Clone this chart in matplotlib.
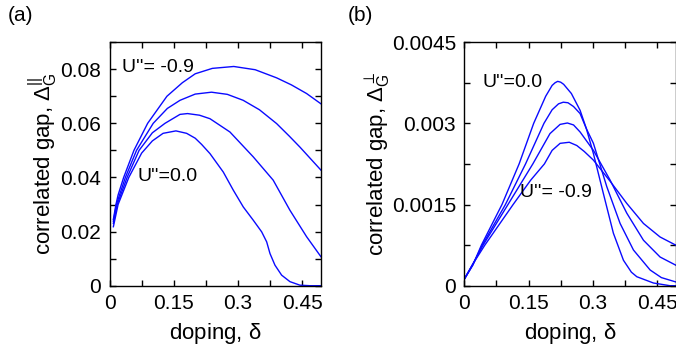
import matplotlib
matplotlib.use("Agg")
import matplotlib.pyplot as plt
import numpy as np

plt.rcParams['font.family'] = ['Liberation Sans', 'DejaVu Sans']
plt.rcParams['mathtext.fontset'] = 'custom'
plt.rcParams['mathtext.rm'] = 'Liberation Sans'
plt.rcParams['mathtext.it'] = 'Liberation Sans'
plt.rcParams['mathtext.default'] = 'regular'

# panel (a): correlated gap parallel (top curve U''=-0.9 ... bottom U''=0.0)
xa1 = [0.009, 0.015, 0.020, 0.033, 0.057, 0.089, 0.134, 0.170, 0.200, 0.240, 0.290, 0.340, 0.390, 0.4245, 0.460, 0.4935]
ya1 = [0.0245, 0.0300, 0.0335, 0.0400, 0.0500, 0.0600, 0.0700, 0.0750, 0.0783, 0.0803, 0.0810, 0.0798, 0.0768, 0.0742, 0.0710, 0.0672]

xa2 = [0.009, 0.016, 0.037, 0.063, 0.102, 0.135, 0.1645, 0.200, 0.238, 0.275, 0.312, 0.350, 0.390, 0.420, 0.4445, 0.4935]
ya2 = [0.0238, 0.0300, 0.0400, 0.0500, 0.0600, 0.0655, 0.0685, 0.0708, 0.0715, 0.0707, 0.0685, 0.0650, 0.0599, 0.0552, 0.0512, 0.0427]

xa3 = [0.009, 0.018, 0.041, 0.069, 0.100, 0.1295, 0.1645, 0.182, 0.210, 0.2345, 0.281, 0.3355, 0.382, 0.421, 0.460, 0.4935]
ya3 = [0.0230, 0.0300, 0.0400, 0.0500, 0.0565, 0.0600, 0.0633, 0.0636, 0.0630, 0.0617, 0.0568, 0.0476, 0.0390, 0.0279, 0.0181, 0.0107]

xa4 = [0.009, 0.020, 0.045, 0.075, 0.100, 0.125, 0.155, 0.180, 0.200, 0.215, 0.2345, 0.2655, 0.2889, 0.3122,
       0.3355, 0.3551, 0.3668, 0.3745, 0.3861, 0.4017, 0.4211, 0.4444, 0.468, 0.4935]
ya4 = [0.0218, 0.0300, 0.0400, 0.0490, 0.0535, 0.0563, 0.0572, 0.0563, 0.0545, 0.0522, 0.0488, 0.0420, 0.0353, 0.0291,
       0.0242, 0.0199, 0.0162, 0.0119, 0.0076, 0.0039, 0.0015, 0.0002, 0.0, 0.0]

# panel (b): correlated gap perpendicular (tallest U''=0.0 ... lowest U''=-0.9)
xb1 = [0.0, 0.020, 0.040, 0.088, 0.128, 0.162, 0.190, 0.205, 0.212, 0.218, 0.225, 0.232, 0.250, 0.2703, 0.285, 0.3014,
       0.3247, 0.348, 0.3715, 0.390, 0.4027, 0.4415, 0.480, 0.4935]
yb1 = [0.00012, 0.00038, 0.00075, 0.00150, 0.00225, 0.00300, 0.00350, 0.00370, 0.00375, 0.003775, 0.00376, 0.00372, 0.00355, 0.00324, 0.00290, 0.00244,
       0.00170, 0.00097, 0.00047, 0.00025, 0.000166, 0.00005, 0.0, 0.0]

xb2 = [0.0, 0.020, 0.042, 0.096, 0.143, 0.186, 0.205, 0.220, 0.231, 0.242, 0.255, 0.2703, 0.285, 0.3014, 0.3326, 0.3637, 0.3948, 0.4338, 0.460, 0.4935]
yb2 = [0.00012, 0.00039, 0.00075, 0.00150, 0.00225, 0.00300, 0.00325, 0.00336, 0.00339, 0.00338, 0.00331, 0.00318, 0.00290, 0.00263, 0.00183, 0.00115, 0.00066, 0.00029, 0.00015, 0.00007]

xb3 = [0.0, 0.020, 0.044, 0.102, 0.160, 0.200, 0.2236, 0.2406, 0.255, 0.2703, 0.3014, 0.3404, 0.3793, 0.4182, 0.457, 0.4935]
yb3 = [0.00012, 0.00040, 0.00075, 0.00150, 0.00225, 0.00281, 0.00298, 0.003006, 0.00297, 0.00284, 0.00250, 0.00195, 0.00134, 0.00084, 0.00053, 0.00038]

xb4 = [0.0, 0.020, 0.048, 0.114, 0.155, 0.187, 0.205, 0.2236, 0.245, 0.2626, 0.280, 0.3014, 0.3404, 0.3793, 0.4182, 0.457, 0.4935]
yb4 = [0.00012, 0.00040, 0.00075, 0.00150, 0.00195, 0.00225, 0.00250, 0.00263, 0.00265, 0.00259, 0.00248, 0.00232, 0.00193, 0.00152, 0.00115, 0.00090, 0.00075]

xticks = [0, 0.15, 0.3, 0.45]
xticklabels = ["0", "0.15", "0.3", "0.45"]
yticks_a = [0, 0.02, 0.04, 0.06, 0.08]
yticklabels_a = ["0", "0.02", "0.04", "0.06", "0.08"]
yticks_b = [0, 0.0015, 0.003, 0.0045]
yticklabels_b = ["0", "0.0015", "0.003", "0.0045"]

fig = plt.figure(figsize=(6.76, 3.51), dpi=100)
axa = fig.add_axes([0.1620, 0.186, 0.3128, 0.694])
axb = fig.add_axes([0.6868, 0.186, 0.3128, 0.694])

col = '#0a0aff'
for x, y in [(xa1, ya1), (xa2, ya2), (xa3, ya3), (xa4, ya4)]:
    axa.plot(x, y, color=col, lw=1.0)
for x, y in [(xb1, yb1), (xb2, yb2), (xb3, yb3), (xb4, yb4)]:
    axb.plot(x, y, color=col, lw=1.0)

def style(ax, yt, ytl, ymax, yminor):
    ax.set_xlim(0, 0.4935)
    ax.set_ylim(0, ymax)
    ax.set_xticks(xticks)
    ax.set_xticklabels(xticklabels)
    ax.set_xticks(np.arange(0.075, 0.49, 0.15), minor=True)
    ax.set_yticks(yt)
    ax.set_yticklabels(ytl)
    ax.set_yticks(yminor, minor=True)
    ax.tick_params(which='both', direction='in', top=True, right=True, labelsize=15, pad=6)
    ax.tick_params(which='major', length=4, width=1)
    ax.tick_params(which='minor', length=4, width=1)
    for s in ax.spines.values():
        s.set_linewidth(1)
    ax.set_xlabel(r'doping, $\delta$', fontsize=16, labelpad=6)

style(axa, yticks_a, yticklabels_a, 0.09, [0.01, 0.03, 0.05, 0.07, 0.09])
style(axb, yticks_b, yticklabels_b, 0.0045, [0.00075, 0.00225, 0.00375])

axa.set_ylabel(r'correlated gap, $\Delta_G^{||}$', fontsize=16, labelpad=0.5)
axb.set_ylabel(r'correlated gap, $\Delta_G^{\perp}$', fontsize=16, labelpad=-1)

axa.text(0.030, 0.0807, "U''= -0.9", fontsize=14, va='center')
axa.text(0.065, 0.0402, "U''=0.0", fontsize=14, va='center')
axb.text(0.043, 0.00376, "U''=0.0", fontsize=14, va='center')
axb.text(0.131, 0.00172, "U''= -0.9", fontsize=14, va='center')

fig.text(0.012, 0.957, "(a)", fontsize=15, va='center')
fig.text(0.515, 0.957, "(b)", fontsize=15, va='center')

fig.savefig("out.png", dpi=100)
